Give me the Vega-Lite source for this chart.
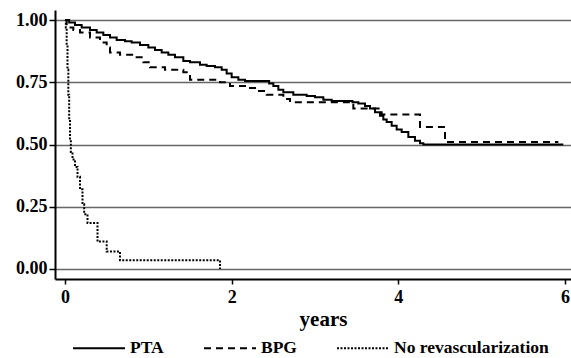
{
  "$schema": "https://vega.github.io/schema/vega-lite/v6.json",
  "width": 516,
  "height": 269,
  "autosize": {"type": "none"},
  "padding": {"left": 55, "top": 10, "right": 0, "bottom": 79},
  "background": "white",
  "config": {"view": {"stroke": null}, "font": "Liberation Serif"},
  "data": {
    "values": [
      {"g": "PTA", "t": 0, "s": 1.0},
      {"g": "PTA", "t": 0.05, "s": 0.99},
      {"g": "PTA", "t": 0.12, "s": 0.98},
      {"g": "PTA", "t": 0.2, "s": 0.97},
      {"g": "PTA", "t": 0.3, "s": 0.96},
      {"g": "PTA", "t": 0.38, "s": 0.95},
      {"g": "PTA", "t": 0.46, "s": 0.94},
      {"g": "PTA", "t": 0.54, "s": 0.93},
      {"g": "PTA", "t": 0.62, "s": 0.92},
      {"g": "PTA", "t": 0.72, "s": 0.915},
      {"g": "PTA", "t": 0.8, "s": 0.91},
      {"g": "PTA", "t": 0.9, "s": 0.9},
      {"g": "PTA", "t": 1.0, "s": 0.89},
      {"g": "PTA", "t": 1.08, "s": 0.88},
      {"g": "PTA", "t": 1.16, "s": 0.87},
      {"g": "PTA", "t": 1.24, "s": 0.86},
      {"g": "PTA", "t": 1.32, "s": 0.85},
      {"g": "PTA", "t": 1.42, "s": 0.835},
      {"g": "PTA", "t": 1.5, "s": 0.83},
      {"g": "PTA", "t": 1.62, "s": 0.82},
      {"g": "PTA", "t": 1.7, "s": 0.815},
      {"g": "PTA", "t": 1.8, "s": 0.81},
      {"g": "PTA", "t": 1.88, "s": 0.8},
      {"g": "PTA", "t": 1.94, "s": 0.785},
      {"g": "PTA", "t": 2.0, "s": 0.77},
      {"g": "PTA", "t": 2.08, "s": 0.76},
      {"g": "PTA", "t": 2.16, "s": 0.755},
      {"g": "PTA", "t": 2.45, "s": 0.745},
      {"g": "PTA", "t": 2.5, "s": 0.735},
      {"g": "PTA", "t": 2.56, "s": 0.72},
      {"g": "PTA", "t": 2.62, "s": 0.71},
      {"g": "PTA", "t": 2.74, "s": 0.7},
      {"g": "PTA", "t": 2.9, "s": 0.695},
      {"g": "PTA", "t": 3.0, "s": 0.69},
      {"g": "PTA", "t": 3.1, "s": 0.68},
      {"g": "PTA", "t": 3.2, "s": 0.675},
      {"g": "PTA", "t": 3.45, "s": 0.67},
      {"g": "PTA", "t": 3.52, "s": 0.665},
      {"g": "PTA", "t": 3.6, "s": 0.655},
      {"g": "PTA", "t": 3.66, "s": 0.645},
      {"g": "PTA", "t": 3.72, "s": 0.63},
      {"g": "PTA", "t": 3.78, "s": 0.615},
      {"g": "PTA", "t": 3.82, "s": 0.6},
      {"g": "PTA", "t": 3.86, "s": 0.59},
      {"g": "PTA", "t": 3.92, "s": 0.575},
      {"g": "PTA", "t": 3.98, "s": 0.56},
      {"g": "PTA", "t": 4.04, "s": 0.55},
      {"g": "PTA", "t": 4.12, "s": 0.53},
      {"g": "PTA", "t": 4.2, "s": 0.515},
      {"g": "PTA", "t": 4.26, "s": 0.505},
      {"g": "PTA", "t": 4.3, "s": 0.5},
      {"g": "PTA", "t": 5.98, "s": 0.5},
      {"g": "BPG", "t": 0, "s": 1.0},
      {"g": "BPG", "t": 0.02, "s": 0.97},
      {"g": "BPG", "t": 0.1, "s": 0.96},
      {"g": "BPG", "t": 0.18, "s": 0.95},
      {"g": "BPG", "t": 0.3, "s": 0.93},
      {"g": "BPG", "t": 0.42, "s": 0.91},
      {"g": "BPG", "t": 0.5, "s": 0.89},
      {"g": "BPG", "t": 0.54, "s": 0.87},
      {"g": "BPG", "t": 0.66, "s": 0.86},
      {"g": "BPG", "t": 0.82, "s": 0.85},
      {"g": "BPG", "t": 0.94, "s": 0.83},
      {"g": "BPG", "t": 1.02, "s": 0.81},
      {"g": "BPG", "t": 1.2, "s": 0.8},
      {"g": "BPG", "t": 1.42, "s": 0.79},
      {"g": "BPG", "t": 1.5, "s": 0.76},
      {"g": "BPG", "t": 1.86, "s": 0.75},
      {"g": "BPG", "t": 1.98, "s": 0.735},
      {"g": "BPG", "t": 2.22, "s": 0.727},
      {"g": "BPG", "t": 2.3, "s": 0.715},
      {"g": "BPG", "t": 2.42, "s": 0.7},
      {"g": "BPG", "t": 2.62, "s": 0.683},
      {"g": "BPG", "t": 2.7, "s": 0.67},
      {"g": "BPG", "t": 3.46, "s": 0.645},
      {"g": "BPG", "t": 3.8, "s": 0.62},
      {"g": "BPG", "t": 4.26, "s": 0.57},
      {"g": "BPG", "t": 4.56, "s": 0.51},
      {"g": "BPG", "t": 5.92, "s": 0.51},
      {"g": "No revascularization", "t": 0, "s": 1.0},
      {"g": "No revascularization", "t": 0.01, "s": 0.97},
      {"g": "No revascularization", "t": 0.02, "s": 0.9},
      {"g": "No revascularization", "t": 0.03, "s": 0.8},
      {"g": "No revascularization", "t": 0.04, "s": 0.7},
      {"g": "No revascularization", "t": 0.05, "s": 0.6},
      {"g": "No revascularization", "t": 0.06, "s": 0.52},
      {"g": "No revascularization", "t": 0.07, "s": 0.47},
      {"g": "No revascularization", "t": 0.09, "s": 0.44},
      {"g": "No revascularization", "t": 0.12, "s": 0.41},
      {"g": "No revascularization", "t": 0.15, "s": 0.37},
      {"g": "No revascularization", "t": 0.18, "s": 0.32},
      {"g": "No revascularization", "t": 0.21, "s": 0.26},
      {"g": "No revascularization", "t": 0.23, "s": 0.22},
      {"g": "No revascularization", "t": 0.27, "s": 0.185},
      {"g": "No revascularization", "t": 0.39, "s": 0.11},
      {"g": "No revascularization", "t": 0.5, "s": 0.07},
      {"g": "No revascularization", "t": 0.66, "s": 0.035},
      {"g": "No revascularization", "t": 1.86, "s": 0.0}
    ]
  },
  "mark": {"type": "line", "interpolate": "step-after", "color": "black", "strokeWidth": 2, "strokeCap": "butt"},
  "encoding": {
    "x": {
      "field": "t", "type": "quantitative",
      "scale": {"domain": [-0.12, 6.072], "nice": false, "zero": false},
      "axis": {
        "values": [0, 2, 4, 6], "title": "years", "grid": false,
        "domainColor": "black", "domainWidth": 2,
        "tickColor": "black", "tickSize": 5, "tickWidth": 1.5,
        "labelFont": "Liberation Serif", "labelFontWeight": "bold", "labelFontSize": 18, "labelColor": "black",
        "labelPadding": 4, "labelFlush": false,
        "titleFont": "Liberation Serif", "titleFontSize": 21, "titleFontWeight": "bold", "titleColor": "black", "titlePadding": 2,
        "titleX": 268
      }
    },
    "y": {
      "field": "s", "type": "quantitative",
      "scale": {"domain": [-0.0402, 1.0402], "nice": false, "zero": false},
      "axis": {
        "values": [0, 0.25, 0.5, 0.75, 1], "format": ".2f", "title": null,
        "grid": true, "gridColor": "#666666", "gridWidth": 1.5,
        "domainColor": "black", "domainWidth": 2,
        "tickColor": "black", "tickSize": 6, "tickWidth": 1.5,
        "labelFont": "Liberation Serif", "labelFontWeight": "bold", "labelFontSize": 18, "labelColor": "black",
        "labelPadding": 2, "labelFlush": false
      }
    },
    "strokeDash": {
      "field": "g", "type": "nominal",
      "scale": {"domain": ["PTA", "BPG", "No revascularization"], "range": [[1, 0], [7, 5], [2, 1.5]]},
      "legend": {
        "orient": "none", "legendX": 17, "legendY": 311, "direction": "horizontal", "title": null,
        "symbolType": "stroke", "symbolSize": 2704, "symbolStrokeWidth": 2, "symbolStrokeColor": "black",
        "labelFont": "Liberation Serif", "labelFontWeight": "bold", "labelFontSize": 17.5, "labelColor": "black",
        "labelOffset": 4, "columnPadding": 36
      }
    }
  }
}
